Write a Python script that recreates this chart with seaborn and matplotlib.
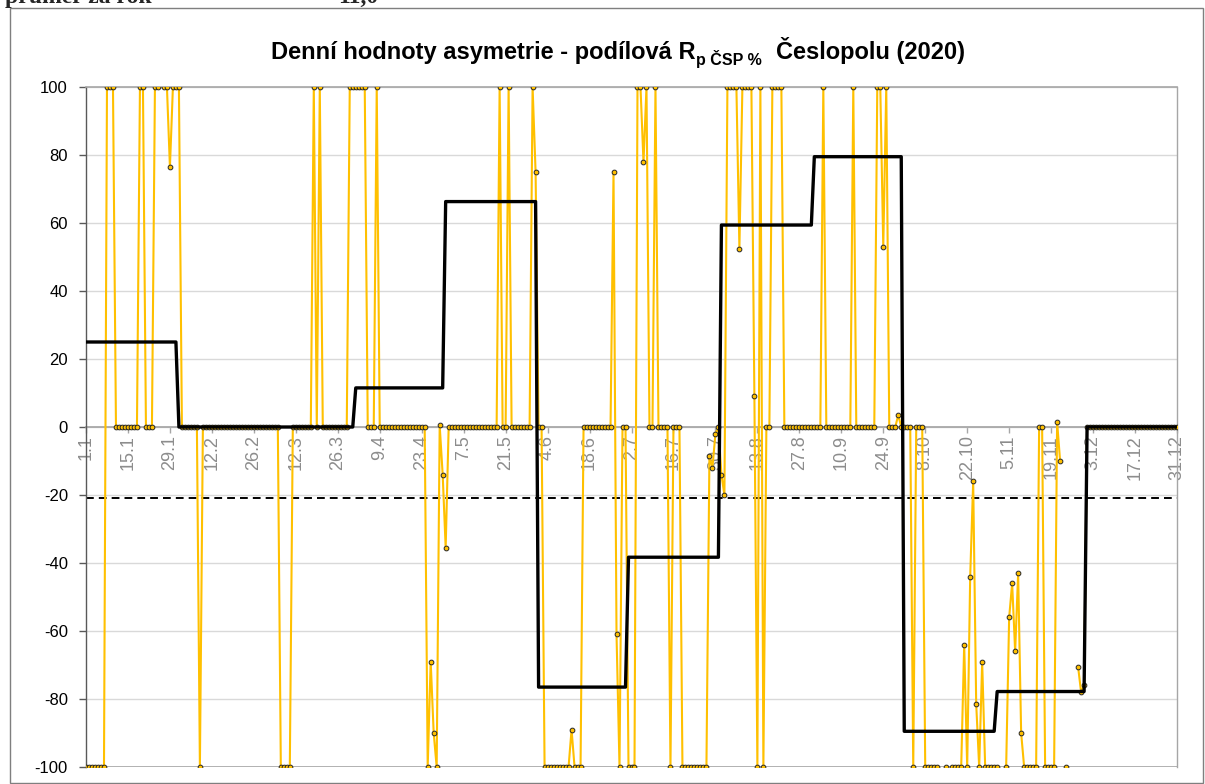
import numpy as np
import matplotlib
matplotlib.use("Agg")
import matplotlib.pyplot as plt
import seaborn as sns
from matplotlib.patches import Rectangle

nan = np.nan

# ---- data ----
daily_jan = [-100, -100, -100, -100, -100, -100, -100, 100, 100, 100,
             0, 0, 0, 0, 0, 0, 0, 0, 100, 100, 0, 0, 0, 100, 100, nan,
             100, 100, 76.5, 100, 100]
daily_feb = [100, 0, 0, 0, 0, 0, 0, -100] + [0] * 20
daily_mar = [0, 0, 0, 0, 0, 0, -100, -100, -100, -100, 0, 0, 0, 0, 0, 0, 0,
             100, 0, 100, 0, 0, 0, 0, 0, 0, 0, 0, 0, 100, 100]
daily_apr = [100, 100, 100, 100, 0, 0, 0, 100, 0, 0, 0, 0, 0, 0, 0, 0, 0, 0,
             0, 0, 0, 0, 0, 0, -100, -69, -90, -100, 0.5, -14]
daily_may = [-35.5, 0, 0, 0, 0, 0, 0, 0, 0, 0, 0, 0, 0, 0, 0, 0, 0, 0,
             100, 0, 0, 100, 0, 0, 0, 0, 0, 0, 0, 100, 75]
daily_jun = [0, 0, -100, -100, -100, -100, -100, -100, -100, -100, -100, -89,
             -100, -100, -100, 0, 0, 0, 0, 0, 0, 0, 0, 0, 0, 75, -61, -100, 0, 0]
daily_jul = [-100, -100, -100, 100, 100, 77.8, 100, 0, 0, 100, 0, 0, 0, 0,
             -100, 0, 0, 0, -100, -100, -100, -100, -100, -100, -100, -100, -100,
             -8.5, -12, -2, 0]
daily_aug = [-14, -20, 100, 100, 100, 100, 52.5, 100, 100, 100, 100, 9.2,
             -100, 100, -100, 0, 0, 100, 100, 100, 100, 0, 0, 0, 0, 0, 0, 0, 0, 0, 0]
daily_sep = [0, 0, 0, 100, 0, 0, 0, 0, 0, 0, 0, 0, 0, 100, 0, 0, 0, 0, 0, 0, 0,
             100, 100, 53, 100, 0, 0, 0, 3.5, 0]
daily_oct = [0, 0, 0, -100, 0, 0, 0, -100, -100, -100, -100, -100, nan, nan,
             -100, nan, -100, -100, -100, -100, -64, -100, -44, -16, -81.4, -100,
             -69.2, -100, -100, -100, -100]
daily_nov = [-100, nan, nan, -100, -56, -46, -66, -43, -90, -100, -100, -100,
             -100, -100, 0, 0, -100, -100, -100, -100, 1.5, -10, nan, -100,
             nan, nan, nan, -70.5, -78, -76]
daily_dec = [0] * 31

monthly_values = [25.0, 0.0, 0.0, 11.5, 66.3, -76.5, -38.3, 59.4, 79.5, -89.5, -77.8, 0.0]
month_days = [31, 28, 31, 30, 31, 30, 31, 31, 30, 31, 30, 31]
year_average = -21.0

tick_labels = ["1.1", "15.1", "29.1", "12.2", "26.2", "12.3", "26.3", "9.4", "23.4",
               "7.5", "21.5", "4.6", "18.6", "2.7", "16.7", "30.7", "13.8", "27.8",
               "10.9", "24.9", "8.10", "22.10", "5.11", "19.11", "3.12", "17.12", "31.12"]
y_ticks = [-100, -80, -60, -40, -20, 0, 20, 40, 60, 80, 100]

title_main = "Denní hodnoty asymetrie - podílová R"
title_sub = "p ČSP %"
title_end = "Česlopolu (2020)"
header_left = "průměr za rok"
header_right = "11,0"

# ---- build series ----
daily = np.array(daily_jan + daily_feb + daily_mar + daily_apr + daily_may + daily_jun +
                 daily_jul + daily_aug + daily_sep + daily_oct + daily_nov + daily_dec, dtype=float)
days = np.arange(len(daily))
monthly_daily = np.repeat(monthly_values, month_days)

# ---- style ----
sns.set_theme(style="white")
plt.rcParams["font.family"] = ["Liberation Sans", "DejaVu Sans"]
plt.rcParams["axes.unicode_minus"] = False

W, H = 1205, 784
fig = plt.figure(figsize=(W / 100, H / 100), dpi=100)
fig.patch.set_facecolor("white")
ax = fig.add_axes([86 / W, 1 - 767 / H, (1177 - 86) / W, (767 - 87) / H])
ax.set_facecolor("white")

# daily series
ax.plot(days, daily, color="#FFC000", lw=1.5, marker="o", ms=3.4,
        mfc="#FFC000", mec="#262626", mew=0.7, zorder=3)
# monthly step series
sns.lineplot(x=days, y=monthly_daily, color="black", lw=2.4, ax=ax, zorder=4)
# yearly average
ax.axhline(year_average, color="black", lw=1.4, ls=(0, (4, 2.6)), zorder=2)
ax.axhline(-100, color="#a6a6a6", lw=1.2, zorder=1)

ax.set_xlim(days[0], days[-1])
ax.set_ylim(-100, 100)
ax.set_yticks(y_ticks)
ax.set_yticklabels([str(v) for v in y_ticks])
ax.set_xticks(days[::14])
ax.set_xticklabels(tick_labels)
ax.yaxis.grid(True, color="#d9d9d9", lw=1)
ax.xaxis.grid(False)
ax.set_xlabel("")
ax.set_ylabel("")

ax.spines["bottom"].set_position(("data", 0))
ax.spines["bottom"].set_color("#a6a6a6")
ax.spines["bottom"].set_zorder(2)
ax.spines["left"].set_color("#595959")
ax.spines["left"].set_linewidth(1.0)
ax.spines["top"].set_color("#a6a6a6")
ax.spines["top"].set_linewidth(1.2)
ax.spines["right"].set_color("#a6a6a6")
ax.spines["right"].set_linewidth(1.0)

ax.tick_params(axis="y", direction="out", length=5, width=1, color="#595959",
               labelsize=12, labelcolor="black", pad=8, left=True)
ax.tick_params(axis="x", direction="out", length=4, width=1, color="#a6a6a6",
               labelsize=13, labelcolor="#8c8c8c", labelrotation=90, pad=2, bottom=True)

# chart area border
fig.add_artist(Rectangle((10 / W, 1 / H), (1203 - 10) / W, (783 - 8) / H,
                         transform=fig.transFigure, fill=False, ec="#7f7f7f", lw=1.0))

# header text (clipped at the top edge, as in the source spreadsheet crop)
fig.text(5 / W, 1 - 2.5 / H, header_left, family=["Liberation Serif", "DejaVu Serif"],
         fontweight="bold", fontsize=17, ha="left", va="baseline")
fig.text(378 / W, 1 - 2.5 / H, header_right, family=["Liberation Serif", "DejaVu Serif"],
         fontweight="bold", fontsize=17, ha="right", va="baseline")

# title with subscript
fig.canvas.draw()
renderer = fig.canvas.get_renderer()
base_py = 59
pieces = [(title_main, 17, 0, 1), (title_sub, 11.5, 6, 14), (title_end, 17, 0, 0)]
texts = []
for s, fs, dy, gap in pieces:
    t = fig.text(0, 1 - (base_py + dy) / H, s, fontsize=fs, fontweight="bold",
                 ha="left", va="baseline", color="black")
    texts.append((t, gap))
widths = [t.get_window_extent(renderer).width for t, _ in texts]
total = sum(widths) + sum(g for _, g in texts)
x = 618 - total / 2
for (t, gap), w in zip(texts, widths):
    t.set_x(x / W)
    x += w + gap

fig.savefig("out.png", dpi=100, facecolor="white")
